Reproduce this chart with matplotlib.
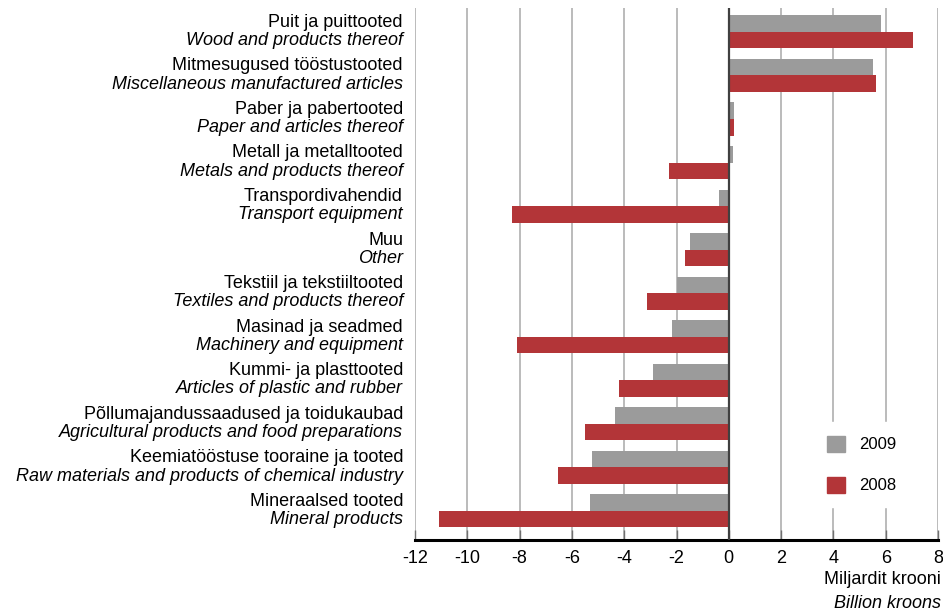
import matplotlib
matplotlib.use("Agg")
import matplotlib.pyplot as plt
import matplotlib.transforms as mtransforms
from matplotlib.patches import Patch
import numpy as np

plt.rcParams['font.family'] = ['Liberation Sans', 'DejaVu Sans']

labels_et = ["Puit ja puittooted", "Mitmesugused tööstustooted", "Paber ja pabertooted",
             "Metall ja metalltooted", "Transpordivahendid", "Muu",
             "Tekstiil ja tekstiiltooted", "Masinad ja seadmed", "Kummi- ja plasttooted",
             "Põllumajandussaadused ja toidukaubad", "Keemiatööstuse tooraine ja tooted",
             "Mineraalsed tooted"]
labels_en = ["Wood and products thereof", "Miscellaneous manufactured articles",
             "Paper and articles thereof", "Metals and products thereof",
             "Transport equipment", "Other", "Textiles and products thereof",
             "Machinery and equipment", "Articles of plastic and rubber",
             "Agricultural products and food preparations",
             "Raw materials and products of chemical industry", "Mineral products"]
values_2009 = [5.82, 5.51, 0.21, 0.16, -0.39, -1.50, -1.99, -2.19, -2.91, -4.37, -5.22, -5.29]
values_2008 = [7.04, 5.63, 0.21, -2.30, -8.29, -1.69, -3.11, -8.09, -4.18, -5.48, -6.52, -11.08]
xticks = [-12, -10, -8, -6, -4, -2, 0, 2, 4, 6, 8]

GRAY = "#9B9B9B"
RED = "#B33538"
FS = 13

fig = plt.figure(figsize=(9.43, 6.11), dpi=100)
L, R = 415, 938
ax = fig.add_axes([L/943, 1-540/611, (R-L)/943, (540-8)/611])

y = np.arange(len(labels_et))
h = 0.38
ax.barh(y - h/2, values_2009, height=h, color=GRAY, zorder=3, label="2009")
ax.barh(y + h/2, values_2008, height=h, color=RED, zorder=3, label="2008")

ax.set_xlim(-12, 8)
ax.set_ylim(11.67, -0.55)
ax.set_xticks(xticks)
ax.set_xticklabels([str(t) for t in xticks], fontsize=FS)
ax.set_yticks([])
ax.grid(axis='x', color="#A8A8A8", linewidth=1.1, zorder=0)
ax.axvline(0, color="#404040", linewidth=1.6, zorder=4)
for s in ['top', 'right', 'left']:
    ax.spines[s].set_visible(False)
ax.spines['bottom'].set_linewidth(2.2)
ax.spines['bottom'].set_color("black")
ax.tick_params(axis='x', direction='in', length=7, width=1, color="#707070", pad=7)

trans = mtransforms.blended_transform_factory(ax.transAxes, ax.transData)
xoff = (403-L)/(R-L)
for i in range(len(labels_et)):
    ax.text(xoff, y[i] - 0.22, labels_et[i], transform=trans, ha='right', va='center', fontsize=FS)
    ax.text(xoff, y[i] + 0.2, labels_en[i], transform=trans, ha='right', va='center',
            fontsize=FS, style='italic')

fig.text(941/943, 1-580/611, "Miljardit krooni", ha='right', va='center', fontsize=FS)
fig.text(941/943, 1-604/611, "Billion kroons", ha='right', va='center', fontsize=FS, style='italic')

handles = [Patch(color=GRAY, label="2009"), Patch(color=RED, label="2008")]
leg = ax.legend(handles=handles, loc='lower right', bbox_to_anchor=(0.962, 0.047),
                frameon=True, fancybox=False, framealpha=1, edgecolor='white',
                fontsize=12, handlelength=1.1, handleheight=1.1, labelspacing=1.45,
                borderpad=0.8, handletextpad=0.85)
leg.set_zorder(5)

fig.savefig("out.png", dpi=100)
